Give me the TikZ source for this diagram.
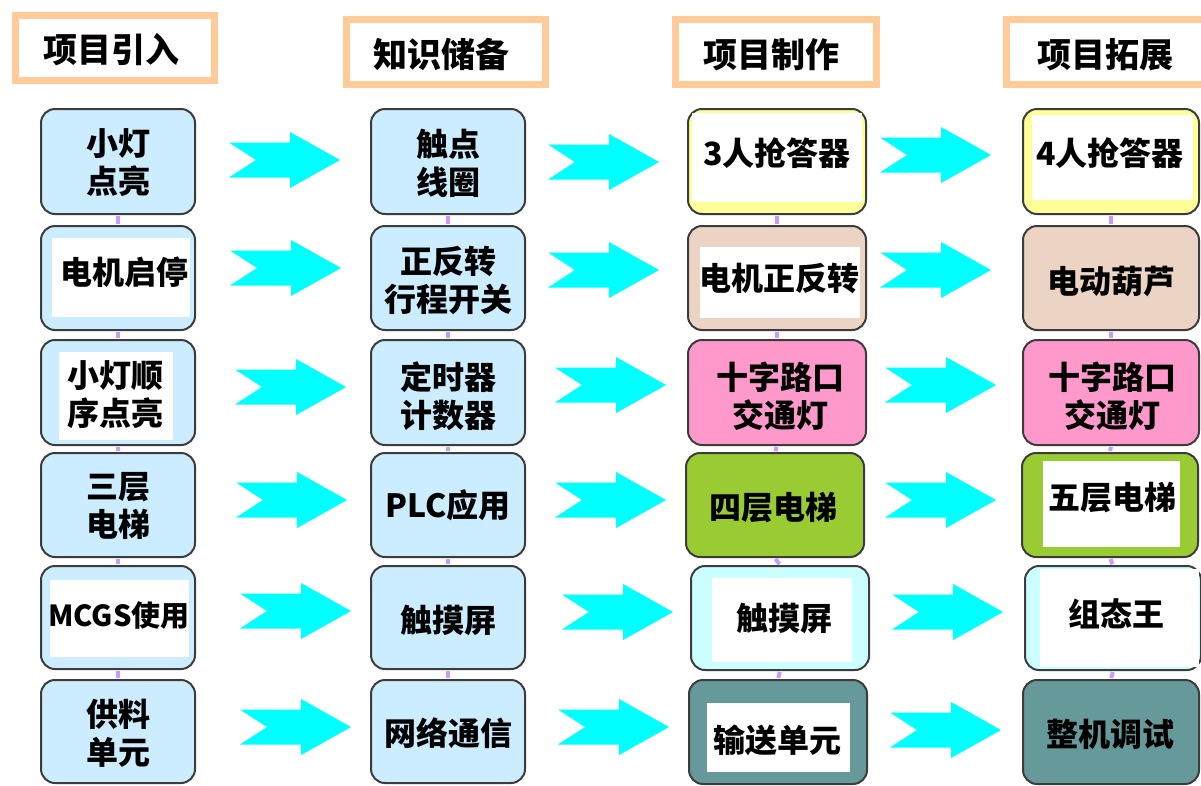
\documentclass[tikz,border=0pt]{standalone}
\usepackage{fontspec}
\newfontfamily\cjk{Noto Sans CJK SC}
\definecolor{boxline}{RGB}{60,60,60}
\definecolor{hdrorange}{RGB}{255,204,153}
\definecolor{lblue}{RGB}{204,236,255}
\definecolor{lyellow}{RGB}{255,255,153}
\definecolor{tan}{RGB}{236,212,196}
\definecolor{lpink}{RGB}{255,153,204}
\definecolor{lgreen}{RGB}{153,204,51}
\definecolor{lcyan}{RGB}{204,255,255}
\definecolor{teal}{RGB}{102,153,153}
\definecolor{arrowcyan}{RGB}{0,255,255}
\definecolor{linkpurple}{RGB}{204,153,255}
\begin{document}
\begin{tikzpicture}[x=1pt,y=-1pt,
  box/.style={draw=boxline, line width=2pt, rounded corners=14pt, inner sep=0pt},
  hdr/.style={draw=hdrorange, line width=7pt, fill=white},
  lbl/.style={font=\cjk\bfseries\fontsize{32}{38}\selectfont, align=center, inner sep=0pt},
  htxt/.style={font=\cjk\bfseries\fontsize{34}{40}\selectfont, inner sep=0pt},
  link/.style={draw=linkpurple, line width=4pt, shorten <=1pt, shorten >=1pt},
  chev/.pic={\fill[arrowcyan] (0,-17.5) -- (61,-17.5) -- (61,-28) -- (111,0) -- (61,28) -- (61,17.5) -- (0,17.5) -- (27,0) -- cycle;}]
\useasboundingbox (0,0) rectangle (1201,785);
\fill[white] (0,0) rectangle (1201,785);

% headers
\draw[hdr] (15.5,15.5) rectangle (214.5,80.5);
\node[htxt] (h1) at (111,50) {项目引入};
\draw[hdr] (346.5,19.5) rectangle (545.5,84.5);
\node[htxt] (h2) at (441,54) {知识储备};
\draw[hdr] (675.5,19.5) rectangle (876.5,84.5);
\node[htxt] (h3) at (771,55) {项目制作};
\draw[hdr] (1006.5,19.5) rectangle (1215,84.5);
\node[htxt] (h4) at (1105,55) {项目拓展};

% column 1
\node[box, fill=lblue, minimum width=154pt, minimum height=105pt] (a1) at (118,161.5) {};
\node[box, fill=lblue, minimum width=154pt, minimum height=104pt] (a2) at (118,278) {};
\node[box, fill=lblue, minimum width=154pt, minimum height=105pt] (a3) at (118,392.5) {};
\node[box, fill=lblue, minimum width=154pt, minimum height=104pt] (a4) at (118,505) {};
\node[box, fill=lblue, minimum width=154pt, minimum height=103pt] (a5) at (118,617.5) {};
\node[box, fill=lblue, minimum width=154pt, minimum height=103pt] (a6) at (118,731.5) {};
\fill[white] (52,238) rectangle (190,317);
\fill[white] (59,352) rectangle (173,440);
\fill[white] (50,580) rectangle (189,657);

% column 2
\node[box, fill=lblue, minimum width=154pt, minimum height=105pt] (b1) at (448,161.5) {};
\node[box, fill=lblue, minimum width=154pt, minimum height=104pt] (b2) at (448,278) {};
\node[box, fill=lblue, minimum width=154pt, minimum height=105pt] (b3) at (448,392.5) {};
\node[box, fill=lblue, minimum width=154pt, minimum height=104pt] (b4) at (448,505) {};
\node[box, fill=lblue, minimum width=154pt, minimum height=103pt] (b5) at (448,617.5) {};
\node[box, fill=lblue, minimum width=154pt, minimum height=103pt] (b6) at (448,731.5) {};

% column 3
\node[box, fill=lyellow, minimum width=178pt, minimum height=105pt] (c1) at (777,161.5) {};
\node[box, fill=tan, minimum width=178pt, minimum height=104pt] (c2) at (777,278) {};
\node[box, fill=lpink, minimum width=178pt, minimum height=105pt] (c3) at (777,392.5) {};
\node[box, fill=lgreen, minimum width=178pt, minimum height=104pt] (c4) at (775,505) {};
\node[box, fill=lcyan, minimum width=178pt, minimum height=104pt] (c5) at (780,618) {};
\node[box, fill=teal, minimum width=178pt, minimum height=104pt] (c6) at (778,732) {};
\fill[white] (692,113) rectangle (862,202);
\fill[white] (700,247) rectangle (860,318);
\fill[white] (712,578) rectangle (852,662);
\fill[white] (707,703) rectangle (850,772);

% column 4
\node[box, fill=lyellow, minimum width=176pt, minimum height=105pt] (d1) at (1111,161.5) {};
\node[box, fill=tan, minimum width=176pt, minimum height=104pt] (d2) at (1111,278) {};
\node[box, fill=lpink, minimum width=176pt, minimum height=105pt] (d3) at (1111,392.5) {};
\node[box, fill=lgreen, minimum width=176pt, minimum height=104pt] (d4) at (1110,505) {};
\node[box, fill=lcyan, minimum width=176pt, minimum height=104pt] (d5) at (1113,618) {};
\node[box, fill=teal, minimum width=176pt, minimum height=104pt] (d6) at (1111,732) {};
\fill[white] (1032,115) rectangle (1193,200);
\fill[white] (1043,461) rectangle (1180,547);
\fill[white] (1040,569) rectangle (1199,667);

% vertical links
\foreach \c in {a,b,c,d}{
  \draw[link] (\c1.south) -- (\c2.north);
  \draw[link] (\c2.south) -- (\c3.north);
  \draw[link] (\c3.south) -- (\c4.north);
  \draw[link] (\c4.south) -- (\c5.north);
  \draw[link] (\c5.south) -- (\c6.north);
}

% labels column 1
\node[lbl] (ta1) at (118,163) {小灯\\点亮};
\node[lbl] (ta2) at (124,272) {电机启停};
\node[lbl] (ta3) at (115,395) {小灯顺\\序点亮};
\node[lbl] (ta4) at (118,506) {三层\\电梯};
\node[lbl, font=\cjk\bfseries\fontsize{29}{36}\selectfont] (ta5) at (119,616) {MCGS使用};
\node[lbl] (ta6) at (118,733) {供料\\单元};

% labels column 2
\node[lbl] (tb1) at (448,163) {触点\\线圈};
\node[lbl] (tb2) at (448,280) {正反转\\行程开关};
\node[lbl] (tb3) at (448,396) {定时器\\计数器};
\node[lbl] (tb4) at (448,505) {PLC应用};
\node[lbl] (tb5) at (448,620) {触摸屏};
\node[lbl] (tb6) at (448,733) {网络通信};

% labels column 3
\node[lbl] (tc1) at (777,153) {3人抢答器};
\node[lbl] (tc2) at (779,278) {电机正反转};
\node[lbl] (tc3) at (780,396) {十字路口\\交通灯};
\node[lbl] (tc4) at (773,508) {四层电梯};
\node[lbl] (tc5) at (784,618) {触摸屏};
\node[lbl] (tc6) at (777,740) {输送单元};

% labels column 4
\node[lbl] (td1) at (1110,153) {4人抢答器};
\node[lbl] (td2) at (1111,281) {电动葫芦};
\node[lbl] (td3) at (1112,396) {十字路口\\交通灯};
\node[lbl] (td4) at (1112,498) {五层电梯};
\node[lbl] (td5) at (1116,614) {组态王};
\node[lbl] (td6) at (1110,734) {整机调试};

% arrows
\pic at (229,160) {chev};
\pic at (230,268) {chev};
\pic at (235,387) {chev};
\pic at (236,500) {chev};
\pic at (240,611) {chev};
\pic at (240,727) {chev};
\pic at (548,162) {chev};
\pic at (548,270) {chev};
\pic at (555,385) {chev};
\pic at (555,500) {chev};
\pic at (562,612) {chev};
\pic at (558,727) {chev};
\pic at (880,155) {chev};
\pic at (880,270) {chev};
\pic at (885,385) {chev};
\pic at (885,500) {chev};
\pic at (892,612) {chev};
\pic at (890,730) {chev};
\end{tikzpicture}
\end{document}
